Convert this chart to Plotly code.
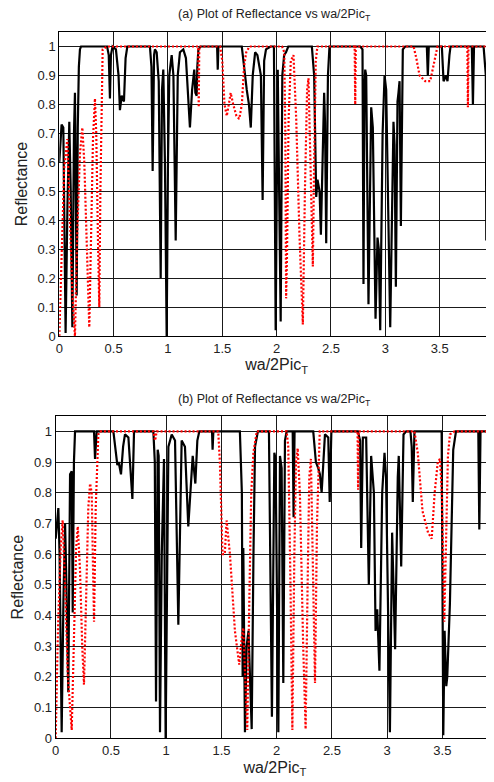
import plotly.graph_objects as go

# ---------------- data: panel (a) ----------------
xa_black = [0, 0.021, 0.037, 0.058, 0.075, 0.092, 0.105, 0.12, 0.135, 0.144, 0.152, 0.16, 0.17, 0.18, 0.19, 0.2,
            0.44, 0.455, 0.466, 0.475, 0.49, 0.521, 0.545, 0.558, 0.574, 0.585, 0.595, 0.61, 0.626,
            0.834, 0.848, 0.859, 0.872, 0.88, 0.896, 0.915, 0.933, 0.945, 0.957, 0.972, 0.988, 1.0, 1.012,
            1.034, 1.05, 1.071, 1.09, 1.11, 1.141, 1.165, 1.202, 1.222, 1.242, 1.252, 1.264, 1.27, 1.28, 1.3,
            1.452, 1.458, 1.464, 1.679, 1.7, 1.71, 1.725, 1.745, 1.762, 1.78, 1.802, 1.823, 1.855, 1.871,
            1.885, 1.902, 1.945, 1.975, 1.991, 2.01, 2.037, 2.052, 2.069, 2.086, 2.107,
            2.324, 2.345, 2.364, 2.376, 2.395, 2.407, 2.437, 2.445, 2.456, 2.472, 2.486,
            2.769, 2.79, 2.799, 2.808, 2.815, 2.824, 2.845, 2.87, 2.885, 2.91, 2.928, 2.94, 2.953,
            2.975, 2.983, 2.993, 3.008, 3.045, 3.075, 3.085, 3.097, 3.112, 3.121, 3.131, 3.143, 3.161, 3.183,
            3.382, 3.391, 3.4, 3.52, 3.536, 3.56, 3.572, 3.59, 3.6,
            3.796, 3.806, 3.816, 3.904, 3.925, 3.929, 3.935, 3.95, 3.986, 4.0]
ya_black = [0.6, 0.73, 0.72, 0.01, 0.45, 0.74, 0.5, 0.03, 0.7, 0.84, 0.5, 0.14, 0.72, 0.93, 0.99, 1.0,
            1.0, 0.97, 0.82, 0.97, 1.0, 0.99, 0.9, 0.78, 0.83, 0.82, 0.81, 0.96, 1.0,
            1.0, 0.93, 0.57, 0.97, 0.99, 0.98, 0.88, 0.2, 0.85, 0.92, 0.6, 0.0, 0.6, 0.9,
            0.97, 0.9, 0.33, 0.9, 0.98, 0.99, 0.96, 0.72, 0.85, 0.92, 0.84, 0.83, 0.93, 0.99, 1.0,
            1.0, 0.92, 1.0, 1.0, 0.93, 0.88, 0.85, 0.8, 0.72, 0.9, 0.98, 0.97, 0.9, 0.47,
            0.95, 0.99, 1.0, 1.0, 0.02, 0.92, 0.05, 0.9, 0.97, 0.98, 1.0,
            1.0, 0.9, 0.48, 0.54, 0.5, 0.35, 0.84, 0.74, 0.32, 0.9, 1.0,
            1.0, 0.99, 0.18, 0.85, 0.92, 0.9, 0.11, 0.79, 0.72, 0.06, 0.34, 0.3, 0.02,
            0.7, 0.82, 0.9, 0.85, 0.03, 0.74, 0.66, 0.17, 0.81, 0.84, 0.88, 0.38, 0.99, 1.0,
            1.0, 0.9, 1.0, 1.0, 0.88, 0.9, 0.88, 0.97, 1.0,
            1.0, 0.8, 1.0, 1.0, 0.9, 0.33, 0.91, 0.85, 0.07, 0.9]

xa_red = [0, 0.02, 0.045, 0.074, 0.095, 0.12, 0.144, 0.165, 0.19, 0.212, 0.23, 0.255, 0.276, 0.29, 0.31,
          0.328, 0.34, 0.355, 0.368, 0.378, 0.399, 0.436,
          1.278, 1.283, 1.288, 1.48, 1.5, 1.52, 1.541, 1.56, 1.577, 1.6, 1.63, 1.656, 1.68, 1.7, 1.72, 1.75,
          2.05, 2.07, 2.08, 2.087, 2.095, 2.11, 2.13, 2.155, 2.18, 2.21, 2.241, 2.26, 2.28, 2.293,
          2.31, 2.333, 2.345, 2.36, 2.375,
          2.718, 2.723, 2.728, 3.26, 3.285, 3.315, 3.367, 3.413, 3.45, 3.48,
          3.755, 3.76, 3.765, 4.0]
ya_red = [0.0, 0.3, 0.58, 0.68, 0.45, 0.15, 0.0, 0.35, 0.63, 0.72, 0.6, 0.3, 0.03, 0.3, 0.68,
          0.82, 0.7, 0.35, 0.1, 0.5, 0.99, 1.0,
          1.0, 0.79, 1.0, 1.0, 0.95, 0.8, 0.76, 0.8, 0.84, 0.8, 0.76, 0.75, 0.8, 0.93, 0.98, 1.0,
          1.0, 0.98, 0.7, 0.13, 0.27, 0.75, 0.95, 0.97, 0.75, 0.35, 0.04, 0.5, 0.85, 0.89,
          0.6, 0.24, 0.6, 0.95, 1.0,
          1.0, 0.8, 1.0, 1.0, 0.96, 0.9, 0.88, 0.88, 0.95, 1.0,
          1.0, 0.79, 1.0, 1.0]

# ---------------- data: panel (b) ----------------
xb_black = [0, 0.024, 0.035, 0.054, 0.07, 0.085, 0.097, 0.114, 0.13, 0.145, 0.154, 0.165, 0.175,
            0.347, 0.356, 0.371, 0.522, 0.546, 0.558, 0.57, 0.591, 0.61, 0.627, 0.658, 0.694, 0.709,
            0.884, 0.897, 0.908, 0.923, 0.932, 0.944, 0.96, 0.98, 0.995, 1.02, 1.05, 1.08, 1.11, 1.14, 1.17,
            1.2, 1.24, 1.264, 1.282, 1.3,
            1.415, 1.42, 1.427, 1.667, 1.685, 1.692, 1.698, 1.713, 1.728, 1.745, 1.774, 1.79, 1.804, 1.83,
            1.93, 1.957, 1.979, 1.99, 2.015, 2.03, 2.045, 2.06, 2.075, 2.09,
            2.145, 2.153, 2.162, 2.331, 2.355, 2.376, 2.391, 2.407, 2.437, 2.467, 2.48, 2.495,
            2.735, 2.755, 2.765, 2.78, 2.81, 2.834, 2.855, 2.88, 2.895, 2.91, 2.93, 2.955, 2.976, 2.99,
            3.025, 3.045, 3.072, 3.096, 3.105, 3.127, 3.148, 3.172,
            3.211, 3.222, 3.232, 3.247, 3.493, 3.508, 3.52, 3.535, 3.544, 3.568, 3.598, 3.623,
            3.825, 3.834, 3.845, 3.915, 3.924, 3.935, 3.95, 3.967]
yb_black = [0.65, 0.75, 0.6, 0.02, 0.45, 0.7, 0.5, 0.15, 0.86, 0.87, 0.41, 0.9, 1.0,
            1.0, 0.91, 1.0, 1.0, 0.91, 0.89, 0.9, 0.86, 0.95, 0.99, 0.98, 0.78, 1.0,
            1.0, 0.9, 0.12, 0.94, 0.92, 0.02, 0.6, 0.91, 0.0, 0.95, 0.99, 0.97, 0.37, 0.97, 0.95,
            0.69, 0.92, 0.83, 0.97, 1.0,
            1.0, 0.94, 1.0, 1.0, 0.8, 0.2, 0.62, 0.02, 0.3, 0.35, 0.03, 0.6, 0.95, 1.0,
            1.0, 0.07, 0.93, 0.91, 0.02, 0.92, 0.88, 0.18, 0.97, 1.0,
            1.0, 0.72, 1.0, 1.0, 0.9, 0.88, 0.86, 0.8, 0.99, 0.98, 0.77, 1.0,
            1.0, 0.97, 0.62, 0.98, 0.98, 0.5, 0.92, 0.8, 0.35, 0.42, 0.22, 0.8, 0.93, 0.85,
            0.02, 0.67, 0.29, 0.85, 0.92, 0.56, 0.99, 1.0,
            1.0, 0.95, 0.77, 1.0, 1.0, 0.01, 0.35, 0.17, 0.2, 0.44, 0.94, 1.0,
            1.0, 0.68, 1.0, 1.0, 0.33, 0.93, 0.9, 0.88]

xb_red = [0, 0.02, 0.045, 0.063, 0.085, 0.11, 0.145, 0.165, 0.185, 0.2, 0.22, 0.24, 0.256, 0.275, 0.295,
          0.311, 0.326, 0.338, 0.347, 0.362, 0.386, 0.401,
          0.884, 0.9, 0.914,
          1.471, 1.486, 1.51, 1.53, 1.547, 1.577, 1.622, 1.661, 1.685, 1.698, 1.715, 1.734, 1.75, 1.77,
          1.789, 1.82,
          2.09, 2.105, 2.125, 2.142, 2.16, 2.175, 2.19, 2.21, 2.24, 2.262, 2.28, 2.295, 2.31, 2.33, 2.347,
          2.365, 2.39,
          2.732, 2.737, 2.742, 3.247, 3.277, 3.32, 3.37, 3.403, 3.43, 3.458, 3.478, 3.495, 3.517, 3.535,
          3.55, 3.568, 3.61, 3.967]
yb_red = [0.0, 0.35, 0.62, 0.71, 0.5, 0.2, 0.027, 0.35, 0.62, 0.69, 0.55, 0.3, 0.175, 0.45, 0.75,
          0.83, 0.8, 0.55, 0.38, 0.75, 0.99, 1.0,
          1.0, 0.97, 1.0,
          1.0, 0.9, 0.6, 0.6, 0.71, 0.6, 0.35, 0.24, 0.33, 0.36, 0.2, 0.027, 0.4, 0.8,
          0.93, 1.0,
          1.0, 0.95, 0.5, 0.027, 0.6, 0.9, 0.945, 0.8, 0.3, 0.03, 0.5, 0.85, 0.91, 0.5, 0.18,
          0.7, 1.0,
          1.0, 0.81, 1.0, 1.0, 0.93, 0.74, 0.67, 0.65, 0.8, 0.9, 0.91, 0.8, 0.38, 0.7,
          0.92, 0.99, 1.0, 1.0]

xa_ticks = [0, 0.5, 1, 1.5, 2, 2.5, 3, 3.5, 4]
xa_tick_text = ["0", "0.5", "1", "1.5", "2", "2.5", "3", "3.5", "4"]
xb_ticks = [0, 0.5, 1, 1.5, 2, 2.5, 3, 3.5]
xb_tick_text = ["0", "0.5", "1", "1.5", "2", "2.5", "3", "3.5"]
y_ticks = [0, 0.1, 0.2, 0.3, 0.4, 0.5, 0.6, 0.7, 0.8, 0.9, 1]
y_tick_text = ["0", "0.1", "0.2", "0.3", "0.4", "0.5", "0.6", "0.7", "0.8", "0.9", "1"]

FONT = "Liberation Sans, Arial, sans-serif"
# page body has an 8px margin: the figure is drawn at (8, 8) in the 494x782 window
OFF = 8
W, H = 494 - OFF, 782 - OFF


def px_x(p):
    return (p - OFF) / W


def px_y(p):
    return 1 - (p - OFF) / H


fig = go.Figure()
black_line = dict(color="black", width=2.2)
red_line = dict(color="#ff0000", width=2.2, dash="2px,2px")

fig.add_trace(go.Scatter(x=xa_black, y=ya_black, mode="lines", line=black_line, xaxis="x", yaxis="y", showlegend=False))
fig.add_trace(go.Scatter(x=xa_red, y=ya_red, mode="lines", line=red_line, xaxis="x", yaxis="y", showlegend=False))
fig.add_trace(go.Scatter(x=xb_black, y=yb_black, mode="lines", line=black_line, xaxis="x2", yaxis="y2", showlegend=False))
fig.add_trace(go.Scatter(x=xb_red, y=yb_red, mode="lines", line=red_line, xaxis="x2", yaxis="y2", showlegend=False))

axis_common = dict(showline=True, linecolor="black", linewidth=1, mirror=True, showgrid=True,
                   gridcolor="#1a1a1a", gridwidth=1, zeroline=False, ticks="", automargin=False,
                   tickfont=dict(family=FONT, size=13, color="#222"))

xdom_a = [px_x(59.3), 1.0]
xdom_b = [px_x(55.7), 1.0]
ydom_a = [px_y(336), px_y(32)]
ydom_b = [px_y(738.3), px_y(416)]

xtitle_font = dict(family=FONT, size=16, color="#222")

fig.update_layout(
    width=W, height=H,
    margin=dict(l=0, r=0, t=0, b=0),
    paper_bgcolor="white", plot_bgcolor="white",
    xaxis=dict(domain=xdom_a, range=[0, 4], tickvals=xa_ticks, ticktext=xa_tick_text, anchor="y",
               ticklabeloverflow="allow",
               title=dict(text="wa/2Pic<sub>T</sub>", font=xtitle_font, standoff=4),
               **axis_common),
    yaxis=dict(domain=ydom_a, range=[0, 1.05], tickvals=y_ticks, ticktext=y_tick_text, anchor="x",
               title=dict(text="Reflectance", font=xtitle_font, standoff=6),
               **axis_common),
    xaxis2=dict(domain=xdom_b, range=[0, 3.967], tickvals=xb_ticks, ticktext=xb_tick_text, anchor="y2",
                title=dict(text="wa/2Pic<sub>T</sub>", font=xtitle_font, standoff=4),
                **axis_common),
    yaxis2=dict(domain=ydom_b, range=[0, 1.05], tickvals=y_ticks, ticktext=y_tick_text, anchor="x2",
                title=dict(text="Reflectance", font=xtitle_font, standoff=6),
                **axis_common),
    annotations=[
        dict(text="(a) Plot of Reflectance vs wa/2Pic<sub>T</sub>", x=px_x(274), y=px_y(15),
             xref="paper", yref="paper", xanchor="center", yanchor="middle", showarrow=False,
             font=dict(family=FONT, size=12.5, color="#222")),
        dict(text="(b) Plot of Reflectance vs wa/2Pic<sub>T</sub>", x=px_x(274), y=px_y(400),
             xref="paper", yref="paper", xanchor="center", yanchor="middle", showarrow=False,
             font=dict(family=FONT, size=12.5, color="#222")),
    ],
)

fig.write_html("out.html")
